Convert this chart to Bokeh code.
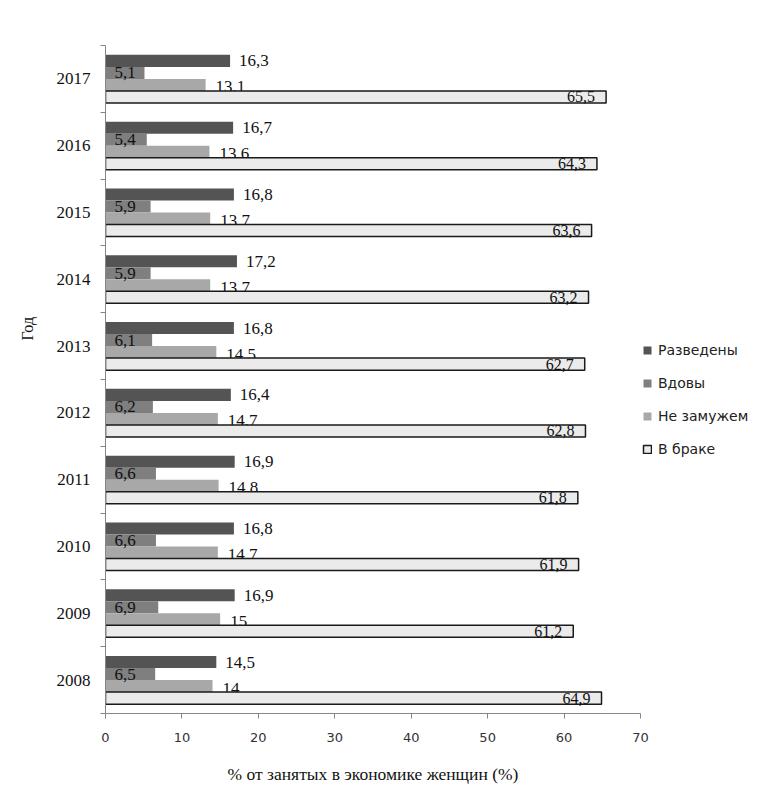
import numpy as np
from bokeh.plotting import figure
from bokeh.models import (Range1d, FixedTicker, ColumnDataSource, Legend,
                          LegendItem, Title)
from bokeh.transform import dodge
from bokeh.core.properties import value
from bokeh.embed import file_html
from bokeh.resources import INLINE

# ---------------- data ----------------
years = ["2008", "2009", "2010", "2011", "2012", "2013", "2014", "2015", "2016", "2017"]
divorced = [14.5, 16.9, 16.8, 16.9, 16.4, 16.8, 17.2, 16.8, 16.7, 16.3]
widowed = [6.5, 6.9, 6.6, 6.6, 6.2, 6.1, 5.9, 5.9, 5.4, 5.1]
single = [14, 15, 14.7, 14.8, 14.7, 14.5, 13.7, 13.7, 13.6, 13.1]
married = [64.9, 61.2, 61.9, 61.8, 62.8, 62.7, 63.2, 63.6, 64.3, 65.5]
series_names = ["Разведены", "Вдовы", "Не замужем", "В браке"]
x_ticks = [0, 10, 20, 30, 40, 50, 60, 70]
x_title = "% от занятых в экономике женщин (%)"
y_title = "Год"


def fmt(v):
    return f"{v:g}".replace(".", ",")


ypos = np.arange(len(years)) + 0.5
src = ColumnDataSource(dict(
    y=ypos, year=years,
    d=divorced, w=widowed, s=single, m=married,
    dl=[fmt(v) for v in divorced], wl=[fmt(v) for v in widowed],
    sl=[fmt(v) for v in single], ml=[fmt(v) for v in married],
    zero=[0] * len(years),
))

p = figure(
    frame_width=535, frame_height=668,
    min_border_left=103, min_border_right=120,
    min_border_top=45, min_border_bottom=76,
    x_range=Range1d(0, 70), y_range=Range1d(0, 10),
    output_backend="svg", toolbar_location=None,
)

H = 0.18
offs = [0.27, 0.09, -0.09, -0.27]
colors = ["#545454", "#7f7f7f", "#a8a8a8", "#ebebeb"]

serif = value("Liberation Serif")

r1 = p.hbar(y=dodge("y", offs[0]), left=0, right="d", height=H, source=src,
            fill_color=colors[0], line_color=None)
r2 = p.hbar(y=dodge("y", offs[1]), left=0, right="w", height=H, source=src,
            fill_color=colors[1], line_color=None)
r3 = p.hbar(y=dodge("y", offs[2]), left=0, right="s", height=H, source=src,
            fill_color=colors[2], line_color=None)

p.text(x="d", y=dodge("y", offs[0]), text="dl", source=src, x_offset=9,
       text_align="left", text_baseline="middle", text_font=serif,
       text_font_size="17px", text_color="#111111")
p.text(x="zero", y=dodge("y", offs[1]), text="wl", source=src, x_offset=9,
       text_align="left", text_baseline="middle", text_font=serif,
       text_font_size="17px", text_color="#111111")
p.text(x="s", y=dodge("y", offs[2]), text="sl", source=src, x_offset=10,
       y_offset=2, text_align="left", text_baseline="middle", text_font=serif,
       text_font_size="17px", text_color="#111111")

r4 = p.hbar(y=dodge("y", offs[3]), left=0, right="m", height=H, source=src,
            fill_color=colors[3], line_color="#1a1a1a", line_width=1.5)
p.text(x="m", y=dodge("y", offs[3]), text="ml", source=src, x_offset=-11,
       text_align="right", text_baseline="middle", text_font=serif,
       text_font_size="16px", text_color="#111111")

# ---------------- axes ----------------
axis_col = "#868686"
p.xgrid.visible = False
p.ygrid.visible = False
p.outline_line_color = None

p.xaxis.ticker = FixedTicker(ticks=x_ticks)
p.xaxis.axis_line_color = axis_col
p.xaxis.major_tick_line_color = axis_col
p.xaxis.major_tick_out = 5
p.xaxis.major_tick_in = 0
p.xaxis.minor_tick_line_color = None
p.xaxis.major_label_text_font = "DejaVu Sans"
p.xaxis.major_label_text_font_size = "13px"
p.xaxis.major_label_text_color = "#333333"
p.xaxis.major_label_standoff = 14
p.xaxis.axis_label = x_title
p.xaxis.axis_label_text_font = "Liberation Serif"
p.xaxis.axis_label_text_font_size = "17.5px"
p.xaxis.axis_label_text_font_style = "normal"
p.xaxis.axis_label_text_color = "#111111"
p.xaxis.axis_label_standoff = 19

p.yaxis.ticker = FixedTicker(ticks=list(ypos), minor_ticks=list(range(len(years) + 1)))
p.yaxis.major_label_overrides = {float(y): yr for y, yr in zip(ypos, years)}
p.yaxis.axis_line_color = axis_col
p.yaxis.major_tick_out = 0
p.yaxis.major_tick_in = 0
p.yaxis.minor_tick_out = 5
p.yaxis.minor_tick_in = 0
p.yaxis.minor_tick_line_color = axis_col
p.yaxis.major_label_text_font = "Liberation Serif"
p.yaxis.major_label_text_font_size = "17px"
p.yaxis.major_label_text_color = "#111111"
p.yaxis.major_label_standoff = 10

p.add_layout(Title(text=y_title, align="left", offset=373, vertical_align="middle",
                   standoff=34, text_font="Liberation Serif", text_font_size="16px",
                   text_font_style="normal", text_color="#111111"), "left")

# ---------------- legend ----------------
legend = Legend(
    items=[LegendItem(label=n, renderers=[r]) for n, r in zip(series_names, [r1, r2, r3, r4])],
    location=(2, 256),
    border_line_color=None, background_fill_alpha=0,
    padding=0, margin=0, spacing=17,
    label_height=16, glyph_height=10, glyph_width=10, label_standoff=6,
    label_text_font="DejaVu Sans", label_text_font_size="14px",
    label_text_color="#222222",
)
p.add_layout(legend, "right")

open("out.html", "w").write(file_html(p, INLINE))
